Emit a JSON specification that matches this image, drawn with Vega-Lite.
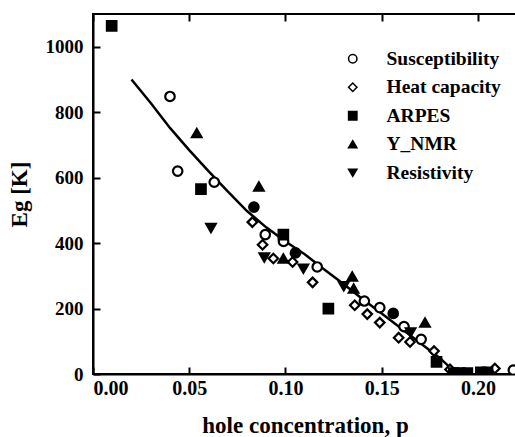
{
  "$schema": "https://vega.github.io/schema/vega-lite/v6.json",
  "width": 424,
  "height": 360,
  "autosize": {"type": "none"},
  "padding": {"left": 93, "top": 14, "right": 0, "bottom": 63},
  "background": "white",
  "config": {
    "view": {"stroke": "black", "strokeWidth": 2},
    "font": "Liberation Serif",
    "axis": {
      "domainColor": "black", "domainWidth": 2, "tickColor": "black", "tickWidth": 2,
      "grid": false,
      "labelFont": "Liberation Serif", "labelFontWeight": "bold", "labelFontSize": 19, "labelColor": "black",
      "titleFont": "Liberation Serif", "titleFontWeight": "bold", "titleFontSize": 23, "titleColor": "black"
    },
    "legend": {
      "labelFont": "Liberation Serif", "labelFontWeight": "bold", "labelFontSize": 19.5, "labelColor": "black"
    }
  },
  "datasets": {
    "points": [
      {"p": 0.040, "E": 848, "method": "Susceptibility", "solid": false},
      {"p": 0.044, "E": 620, "method": "Susceptibility", "solid": false},
      {"p": 0.063, "E": 586, "method": "Susceptibility", "solid": false},
      {"p": 0.0895, "E": 426, "method": "Susceptibility", "solid": false},
      {"p": 0.099, "E": 405, "method": "Susceptibility", "solid": false},
      {"p": 0.1165, "E": 327, "method": "Susceptibility", "solid": false},
      {"p": 0.141, "E": 223, "method": "Susceptibility", "solid": false},
      {"p": 0.149, "E": 203, "method": "Susceptibility", "solid": false},
      {"p": 0.1616, "E": 145, "method": "Susceptibility", "solid": false},
      {"p": 0.1705, "E": 106, "method": "Susceptibility", "solid": false},
      {"p": 0.2184, "E": 12, "method": "Susceptibility", "solid": false},
      {"p": 0.0836, "E": 510, "method": "Susceptibility", "solid": true},
      {"p": 0.1052, "E": 370, "method": "Susceptibility", "solid": true},
      {"p": 0.156, "E": 185, "method": "Susceptibility", "solid": true},
      {"p": 0.0828, "E": 464, "method": "Heat capacity", "solid": false},
      {"p": 0.0881, "E": 395, "method": "Heat capacity", "solid": false},
      {"p": 0.0937, "E": 353, "method": "Heat capacity", "solid": false},
      {"p": 0.1037, "E": 342, "method": "Heat capacity", "solid": false},
      {"p": 0.1141, "E": 280, "method": "Heat capacity", "solid": false},
      {"p": 0.136, "E": 210, "method": "Heat capacity", "solid": false},
      {"p": 0.1425, "E": 183, "method": "Heat capacity", "solid": false},
      {"p": 0.149, "E": 157, "method": "Heat capacity", "solid": false},
      {"p": 0.1588, "E": 111, "method": "Heat capacity", "solid": false},
      {"p": 0.1647, "E": 98, "method": "Heat capacity", "solid": false},
      {"p": 0.1772, "E": 70, "method": "Heat capacity", "solid": false},
      {"p": 0.1855, "E": 14, "method": "Heat capacity", "solid": false},
      {"p": 0.2088, "E": 17, "method": "Heat capacity", "solid": false},
      {"p": 0.0097, "E": 1064, "method": "ARPES", "solid": true},
      {"p": 0.0561, "E": 565, "method": "ARPES", "solid": true},
      {"p": 0.0989, "E": 426, "method": "ARPES", "solid": true},
      {"p": 0.1223, "E": 200, "method": "ARPES", "solid": true},
      {"p": 0.1785, "E": 37, "method": "ARPES", "solid": true},
      {"p": 0.1875, "E": 3, "method": "ARPES", "solid": true},
      {"p": 0.1906, "E": 3, "method": "ARPES", "solid": true},
      {"p": 0.1945, "E": 3, "method": "ARPES", "solid": true},
      {"p": 0.2015, "E": 5, "method": "ARPES", "solid": true},
      {"p": 0.205, "E": 5, "method": "ARPES", "solid": true},
      {"p": 0.0539, "E": 736, "method": "Y_NMR", "solid": true},
      {"p": 0.0862, "E": 573, "method": "Y_NMR", "solid": true},
      {"p": 0.0989, "E": 353, "method": "Y_NMR", "solid": true},
      {"p": 0.1347, "E": 298, "method": "Y_NMR", "solid": true},
      {"p": 0.1354, "E": 261, "method": "Y_NMR", "solid": true},
      {"p": 0.1725, "E": 157, "method": "Y_NMR", "solid": true},
      {"p": 0.0613, "E": 446, "method": "Resistivity", "solid": true},
      {"p": 0.089, "E": 356, "method": "Resistivity", "solid": true},
      {"p": 0.1093, "E": 322, "method": "Resistivity", "solid": true},
      {"p": 0.1303, "E": 268, "method": "Resistivity", "solid": true},
      {"p": 0.165, "E": 127, "method": "Resistivity", "solid": true}
    ],
    "fit": [
      {"p": 0.020, "E": 900},
      {"p": 0.030, "E": 828},
      {"p": 0.040, "E": 752},
      {"p": 0.050, "E": 684},
      {"p": 0.060, "E": 620},
      {"p": 0.070, "E": 558},
      {"p": 0.080, "E": 498},
      {"p": 0.090, "E": 448},
      {"p": 0.100, "E": 405},
      {"p": 0.110, "E": 366},
      {"p": 0.120, "E": 320},
      {"p": 0.130, "E": 276},
      {"p": 0.140, "E": 229},
      {"p": 0.150, "E": 185},
      {"p": 0.160, "E": 140},
      {"p": 0.170, "E": 95},
      {"p": 0.180, "E": 50},
      {"p": 0.187, "E": 12},
      {"p": 0.190, "E": 0}
    ]
  },
  "layer": [
    {
      "data": {"name": "fit"},
      "mark": {"type": "line", "color": "black", "strokeWidth": 2.5, "clip": true},
      "encoding": {
        "x": {"field": "p", "type": "quantitative", "scale": {"domain": [0, 0.2203], "nice": false, "zero": false},
              "axis": {"orient": "bottom", "values": [0, 0.05, 0.1, 0.15, 0.2], "format": ".2f", "ticks": false,
                       "labelFontSize": 20, "title": "hole concentration, p", "labelPadding": 4, "titlePadding": 16}},
        "y": {"field": "E", "type": "quantitative", "scale": {"domain": [0, 1100], "nice": false},
              "axis": {"orient": "left", "values": [0, 200, 400, 600, 800, 1000], "format": "d", "ticks": false,
                       "title": "Eg [K]", "labelPadding": 10, "titlePadding": 14}}
      }
    },
    {
      "data": {"name": "fit"},
      "mark": {"type": "line", "opacity": 0, "clip": true},
      "encoding": {
        "x": {"field": "p", "type": "quantitative",
              "axis": {"orient": "bottom", "offset": -360, "values": [0, 0.05, 0.1, 0.15, 0.2], "domain": false, "labels": false, "title": null, "tickSize": 7}}
      }
    },
    {
      "data": {"name": "points"},
      "mark": {"type": "point", "filled": true, "stroke": "black", "strokeWidth": 2.2, "size": 90, "opacity": 1, "clip": true},
      "encoding": {
        "x": {"field": "p", "type": "quantitative",
              "axis": {"orient": "top", "offset": -360, "values": [0, 0.05, 0.1, 0.15, 0.2], "domain": false, "labels": false, "title": null, "tickSize": 7}},
        "y": {"field": "E", "type": "quantitative",
              "axis": {"orient": "right", "offset": -424, "values": [0, 200, 400, 600, 800, 1000], "domain": false, "labels": false, "title": null, "tickSize": 7}},
        "shape": {"field": "method", "type": "nominal",
                  "scale": {"domain": ["Susceptibility", "Heat capacity", "ARPES", "Y_NMR", "Resistivity"],
                            "range": ["circle", "diamond", "square", "triangle-up", "triangle-down"]},
                  "legend": {"title": null, "orient": "none", "legendX": 250, "legendY": 35, "padding": 0,
                             "symbolSize": 70, "labelOffset": 24, "rowPadding": 7.5,
                             "encode": {"symbols": {"update": {"stroke": {"value": "black"}, "strokeWidth": {"value": 2}}}}}},
        "fill": {"field": "method", "type": "nominal",
                 "condition": {"test": "datum.solid", "value": "black"},
                 "scale": {"domain": ["Susceptibility", "Heat capacity", "ARPES", "Y_NMR", "Resistivity"],
                           "range": ["white", "white", "black", "black", "black"]},
                 "legend": {"title": null, "orient": "none", "legendX": 250, "legendY": 35, "padding": 0,
                             "symbolSize": 70, "labelOffset": 24, "rowPadding": 7.5,
                             "encode": {"symbols": {"update": {"stroke": {"value": "black"}, "strokeWidth": {"value": 2}}}}}}
      }
    }
  ],
  "resolve": {"axis": {"x": "independent", "y": "independent"}}
}
